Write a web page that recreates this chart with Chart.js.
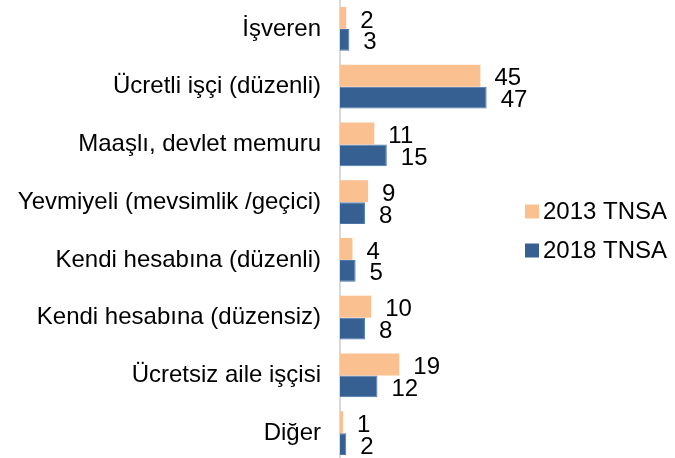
<!DOCTYPE html>
<html>
<head>
<meta charset="utf-8">
<script src="https://cdn.jsdelivr.net/npm/chart.js@4/dist/chart.umd.min.js"></script>
<style>
  html, body { margin: 0; padding: 0; background: #fff; overflow: hidden; }
  #wrap { width: 675px; height: 462px; }
</style>
</head>
<body>
<div id="wrap"><canvas id="chart"></canvas></div>
<script>
const categories = [
    "İşveren",
    "Ücretli işçi (düzenli)",
    "Maaşlı, devlet memuru",
    "Yevmiyeli (mevsimlik /geçici)",
    "Kendi hesabına (düzenli)",
    "Kendi hesabına (düzensiz)",
    "Ücretsiz aile işçisi",
    "Diğer"
];
const tnsa2013 = [2, 45, 11, 9, 4, 10, 19, 1];
const tnsa2018 = [3, 47, 15, 8, 5, 8, 12, 2];

const fontFamily = "'Liberation Sans', Arial, sans-serif";
const fontSize = 24;

// value labels to the right of each bar
const barLabels = {
    id: 'barLabels',
    afterDatasetsDraw(chart) {
        const ctx = chart.ctx;
        ctx.save();
        ctx.font = fontSize + "px " + fontFamily;
        ctx.fillStyle = "#000";
        ctx.textAlign = "left";
        ctx.textBaseline = "middle";
        chart.data.datasets.forEach((ds, i) => {
            chart.getDatasetMeta(i).data.forEach((bar, j) => {
                ctx.fillText(ds.data[j], bar.x + 14, bar.y + 3);
            });
        });
        ctx.restore();
    }
};

// legend on the right, drawn from the datasets
const sideLegend = {
    id: 'sideLegend',
    afterDraw(chart) {
        const ctx = chart.ctx;
        const area = chart.chartArea;
        const x = area.right + 29;
        const mid = 231;
        const step = 39;
        const n = chart.data.datasets.length;
        ctx.save();
        ctx.font = fontSize + "px " + fontFamily;
        ctx.textAlign = "left";
        ctx.textBaseline = "middle";
        chart.data.datasets.forEach((ds, i) => {
            const y = mid + (i - (n - 1) / 2) * step;
            ctx.fillStyle = ds.backgroundColor;
            ctx.fillRect(x, y - 7, 14, 14);
            ctx.fillStyle = "#000";
            ctx.fillText(ds.label, x + 18, y + 1);
        });
        ctx.restore();
    }
};

new Chart("chart", {
    type: "bar",
    data: {
        labels: categories,
        datasets: [
        {
            label: "2013 TNSA",
            data: tnsa2013,
            backgroundColor: "#FAC090",
            categoryPercentage: 0.76,
            barPercentage: 1
        },
        {
            label: "2018 TNSA",
            data: tnsa2018,
            backgroundColor: "#376092",
            borderColor: "#4A76AE",
            borderWidth: 1,
            categoryPercentage: 0.76,
            barPercentage: 1
        }]
    },
    options: {
        indexAxis: 'y',
        responsive: true,
        maintainAspectRatio: false,
        animation: false,
        layout: { padding: { top: 0, bottom: 0, left: 0, right: 179 } },
        scales: {
            x: {
                display: false,
                min: 0,
                max: 50
            },
            y: {
                grid: { display: false, drawTicks: false },
                border: { display: true, color: "#d9d9d9", width: 2 },
                ticks: {
                    color: "#000",
                    padding: 19,
                    font: { family: fontFamily, size: fontSize }
                },
                afterFit(scale) {
                    scale.width = 340;
                    scale.paddingTop = 0;
                    scale.paddingBottom = 0;
                }
            }
        },
        plugins: {
            legend: { display: false },
            tooltip: { enabled: false }
        }
    },
    plugins: [barLabels, sideLegend]
});
</script>
</body>
</html>
